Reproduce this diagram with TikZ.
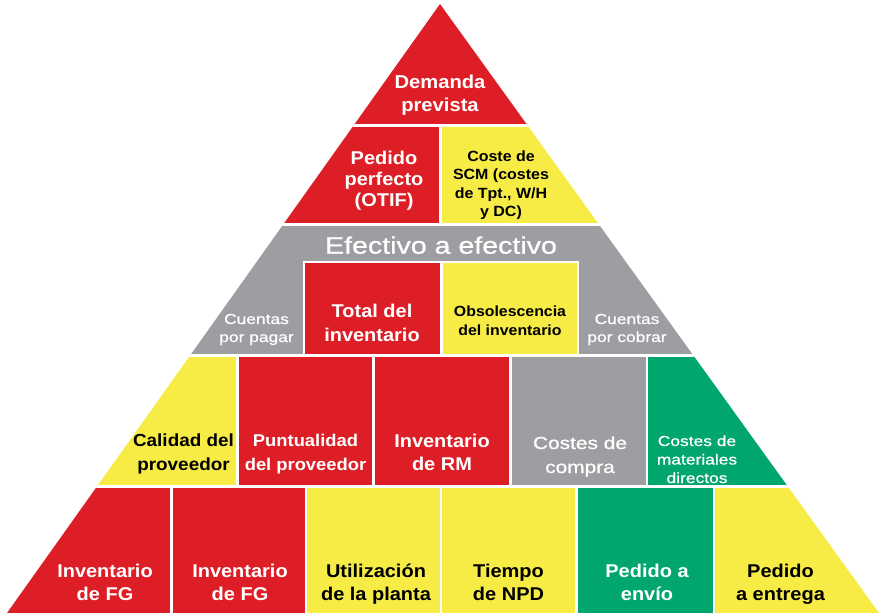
\documentclass[tikz,border=0pt]{standalone}
\usepackage{fontspec}
\setmainfont{Liberation Sans}
\newfontfamily\rgf[FakeStretch=1.2,FakeBold=0.8]{Liberation Sans}
\newfontfamily\bdf[FakeStretch=1.08]{Liberation Sans}
\definecolor{pred}{RGB}{221,30,38}
\definecolor{pyel}{RGB}{247,236,70}
\definecolor{pgray}{RGB}{157,158,162}
\definecolor{pgreen}{RGB}{0,166,107}
\tikzset{
  lbl/.style={anchor=base, align=center, inner sep=0pt},
  bt/.style n args={2}{lbl, font=\bdf\bfseries\fontsize{#1bp}{#2bp}\selectfont},
  rt/.style n args={2}{lbl, font=\rgf\fontsize{#1bp}{#2bp}\selectfont},
  wtxt/.style={text=white},
  ktxt/.style={text=black},
  rowgap/.style={white, line width=3bp},
  colgap/.style={white, line width=2.6bp}
}
\begin{document}
\begin{tikzpicture}[x=1bp, y=-1bp]
\useasboundingbox (0,0) rectangle (880,613);
\coordinate (apex) at (440,4);
\coordinate (bl) at (7,613);
\coordinate (br) at (879,613);
\begin{scope}
  \clip (apex) -- (br) -- (bl) -- cycle;
  % row 1
  \fill[pred] (0,0) rectangle (880,125.5);
  % row 2
  \fill[pred] (0,125.5) rectangle (440.5,224.5);
  \fill[pyel] (440.5,125.5) rectangle (880,224.5);
  % row 3
  \fill[pgray] (0,224.5) rectangle (880,355.5);
  \fill[pred] (304,262) rectangle (441.5,355.5);
  \fill[pyel] (441.5,262) rectangle (578,355.5);
  % row 4
  \fill[pyel] (0,355.5) rectangle (237.2,486.5);
  \fill[pred] (237.2,355.5) rectangle (510.5,486.5);
  \fill[pgray] (510.5,355.5) rectangle (647,486.5);
  \fill[pgreen] (647,355.5) rectangle (880,486.5);
  % row 5
  \fill[pred] (0,486.5) rectangle (306,613);
  \fill[pyel] (306,486.5) rectangle (576.5,613);
  \fill[pgreen] (576.5,486.5) rectangle (714,613);
  \fill[pyel] (714,486.5) rectangle (880,613);
  % gaps
  \draw[rowgap] (0,125.5) -- (880,125.5);
  \draw[rowgap] (0,224.5) -- (880,224.5);
  \draw[rowgap] (0,355.5) -- (880,355.5);
  \draw[rowgap] (0,486.5) -- (880,486.5);
  \draw[colgap] (440.5,125.5) -- (440.5,224.5);
  \draw[colgap] (302.7,262) -- (579.3,262);
  \draw[colgap] (304,262) -- (304,355.5);
  \draw[colgap] (441.5,262) -- (441.5,355.5);
  \draw[colgap] (578,262) -- (578,355.5);
  \draw[colgap] (237.2,355.5) -- (237.2,486.5);
  \draw[colgap] (373.4,355.5) -- (373.4,486.5);
  \draw[colgap] (510.5,355.5) -- (510.5,486.5);
  \draw[colgap] (647,355.5) -- (647,486.5);
  \draw[colgap] (171.5,486.5) -- (171.5,613);
  \draw[colgap] (306,486.5) -- (306,613);
  \draw[colgap] (441,486.5) -- (441,613);
  \draw[colgap] (576.5,486.5) -- (576.5,613);
  \draw[colgap] (714,486.5) -- (714,613);
\end{scope}
% labels (anchor = baseline of the last line)
\node[bt={18.7}{22.5}, wtxt] (demanda) at (440,111.5) {Demanda\\prevista};
\node[bt={18.5}{21}, wtxt] (pedperf) at (384,207) {Pedido\\perfecto\\(OTIF)};
\node[bt={14.8}{18.5}, ktxt] (scm) at (501,217) {Coste de\\SCM (costes\\de Tpt., W/H\\y DC)};
\node[rt={23.8}{28}, wtxt] (c2c) at (441,253.7) {Efectivo a efectivo};
\node[rt={14.5}{18}, wtxt] (cpp) at (256.5,342) {Cuentas\\por pagar};
\node[rt={14.5}{18}, wtxt] (cpc) at (627,342) {Cuentas\\por cobrar};
\node[bt={18.5}{24}, wtxt] (totinv) at (372,341) {Total del\\inventario};
\node[bt={14.7}{19.5}, ktxt] (obsol) at (510,335.5) {Obsolescencia\\del inventario};
\node[bt={17.5}{23.5}, ktxt] (calidad) at (183.5,470) {Calidad del\\proveedor};
\node[bt={17}{23.5}, wtxt] (puntual) at (305.5,470) {Puntualidad\\del proveedor};
\node[bt={18.5}{23.5}, wtxt] (invrm) at (442,470.5) {Inventario\\de RM};
\node[rt={17.4}{24}, wtxt] (compra) at (580,473) {Costes de\\compra};
\node[rt={14.5}{18.5}, wtxt] (matdir) at (697,483) {Costes de\\materiales\\directos};
\node[bt={18.5}{23}, wtxt] (fga) at (105,600) {Inventario\\de FG};
\node[bt={18.5}{23}, wtxt] (fgb) at (240,600) {Inventario\\de FG};
\node[bt={18.5}{23}, ktxt] (planta) at (376,600) {Utilización\\de la planta};
\node[bt={18.5}{23}, ktxt] (npd) at (508.5,600) {Tiempo\\de NPD};
\node[bt={18.5}{23}, wtxt] (envio) at (647,600) {Pedido a\\envío};
\node[bt={18.5}{23}, ktxt] (entrega) at (780.5,600) {Pedido\\a entrega};
\end{tikzpicture}
\end{document}
